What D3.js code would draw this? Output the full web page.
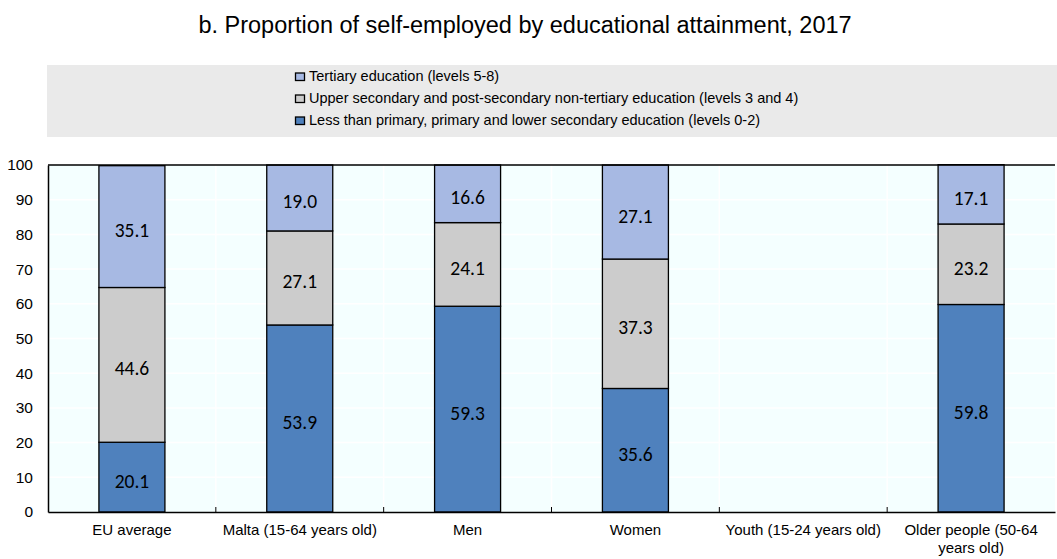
<!DOCTYPE html>
<html>
<head>
<meta charset="utf-8">
<script src="https://cdn.jsdelivr.net/npm/d3@7"></script>
<style>
  body { margin: 0; background: #fff; }
  svg { display: block; }
</style>
</head>
<body>
<svg id="chart" width="1057" height="559"></svg>
<script>
// data
const categories = ['EU average', 'Malta (15-64 years old)', 'Men', 'Women', 'Youth (15-24 years old)', 'Older people (50-64 years old)'];
const lowerSec = [20.1, 53.9, 59.3, 35.6, null, 59.8];
const upperSec = [44.6, 27.1, 24.1, 37.3, null, 23.2];
const tertiary = [35.1, 19.0, 16.6, 27.1, null, 17.1];
const seriesNames = [
    'Less than primary, primary and lower secondary education (levels 0-2)',
    'Upper secondary and post-secondary non-tertiary education (levels 3 and 4)',
    'Tertiary education (levels 5-8)'
];
const seriesColors = ['#4F81BD', '#CCCCCC', '#A7B9E3'];
const yTicks = [0, 10, 20, 30, 40, 50, 60, 70, 80, 90, 100];

const svg = d3.select('#chart');
const margin = { top: 165, right: 2, bottom: 47, left: 48 };
const width = 1057 - margin.left - margin.right;
const height = 559 - margin.top - margin.bottom;
const font = 'Liberation Sans, Arial, sans-serif';

// ----- Title
svg.append('text')
    .attr('x', 525)
    .attr('y', 33)
    .attr('text-anchor', 'middle')
    .style('font-family', font)
    .style('font-size', '23.5px')
    .text('b. Proportion of self-employed by educational attainment, 2017');

// ----- Legend
svg.append('rect')
    .attr('x', 47).attr('y', 65)
    .attr('width', 1057 - 47).attr('height', 72)
    .attr('fill', '#EAEAEA');

const legendItems = [2, 1, 0];
const legend = svg.append('g').attr('transform', 'translate(295,81)');
legendItems.forEach((s, i) => {
    const row = legend.append('g').attr('transform', `translate(0,${i * 22})`);
    row.append('rect')
        .attr('x', 0.5).attr('y', -8)
        .attr('width', 9).attr('height', 7.5)
        .attr('fill', seriesColors[s])
        .attr('stroke', '#000').attr('stroke-width', 1.3);
    row.append('text')
        .attr('x', 14).attr('y', 0)
        .style('font-family', font)
        .style('font-size', '14.5px')
        .text(seriesNames[s]);
});

// ----- Plot
const g = svg.append('g').attr('transform', `translate(${margin.left},${margin.top})`);

const x = d3.scaleBand().domain(categories).range([0, width]).paddingInner(0).paddingOuter(0);
const y = d3.scaleLinear().domain([0, 100]).range([height, 0]);

g.append('rect')
    .attr('width', width).attr('height', height)
    .attr('fill', '#F4FFFF');

// white gridlines
g.selectAll('line.hgrid')
    .data(yTicks.slice(1, -1))
    .join('line')
    .attr('x1', 0).attr('x2', width)
    .attr('y1', d => y(d)).attr('y2', d => y(d))
    .attr('stroke', '#fff').attr('stroke-width', 1.5);

g.selectAll('line.vgrid')
    .data(categories.slice(1))
    .join('line')
    .attr('x1', d => x(d)).attr('x2', d => x(d))
    .attr('y1', 0).attr('y2', height)
    .attr('stroke', '#fff').attr('stroke-width', 1.5);

// stacked bars
const rows = categories.map((c, i) => ({ cat: c, s0: lowerSec[i], s1: upperSec[i], s2: tertiary[i] }));
const stack = d3.stack().keys(['s0', 's1', 's2']).value((d, k) => d[k] || 0);
const stacked = stack(rows);

const barW = 66;
const barX = d => x(d.data.cat) + x.bandwidth() / 2 - barW / 2;

stacked.forEach((layer, si) => {
    const lg = g.append('g');
    const segs = layer.filter(d => d.data['s' + si] != null);
    lg.selectAll('rect')
        .data(segs)
        .join('rect')
        .attr('x', barX)
        .attr('y', d => y(d[1]))
        .attr('width', barW)
        .attr('height', d => y(d[0]) - y(d[1]))
        .attr('fill', seriesColors[si])
        .attr('stroke', '#000')
        .attr('stroke-width', 1.3);
    lg.selectAll('text')
        .data(segs)
        .join('text')
        .attr('x', d => x(d.data.cat) + x.bandwidth() / 2)
        .attr('y', d => y((d[0] + d[1]) / 2) + 10.5)
        .attr('text-anchor', 'middle')
        .style('font-family', 'Carlito, Calibri, Noto Sans, sans-serif')
        .style('font-size', '19.5px')
        .attr('fill', '#000')
        .text(d => d.data['s' + si].toFixed(1));
});

// top frame line
g.append('line').attr('x1', 0).attr('x2', width).attr('y1', 0).attr('y2', 0)
    .attr('stroke', '#000').attr('stroke-width', 1.5);

const yAxis = g.append('g')
    .call(d3.axisLeft(y).tickValues(yTicks).tickSize(0).tickPadding(15));
yAxis.select('.domain').attr('stroke', '#000').attr('stroke-width', 1.5);
yAxis.selectAll('text')
    .style('font-family', font)
    .style('font-size', '15.5px')
    .attr('fill', '#000');

const xAxis = g.append('g').attr('transform', `translate(0,${height})`)
    .call(d3.axisBottom(x).tickSize(0).tickPadding(12));
xAxis.select('.domain').attr('stroke', '#000').attr('stroke-width', 1.5);
xAxis.selectAll('text')
    .style('font-family', font)
    .style('font-size', '15px')
    .attr('fill', '#000')
    .each(function (d) {
        if (d.startsWith('Older')) {
            const t = d3.select(this).text(null);
            t.append('tspan').attr('x', 0).attr('dy', '0.71em').text('Older people (50-64');
            t.append('tspan').attr('x', 0).attr('dy', '1.2em').text('years old)');
            t.attr('dy', null);
        }
    });

// tick marks between categories, pointing up
g.selectAll('line.xtick')
    .data(categories.slice(1))
    .join('line')
    .attr('x1', d => x(d)).attr('x2', d => x(d))
    .attr('y1', height).attr('y2', height - 5)
    .attr('stroke', '#000').attr('stroke-width', 1);
</script>
</body>
</html>
